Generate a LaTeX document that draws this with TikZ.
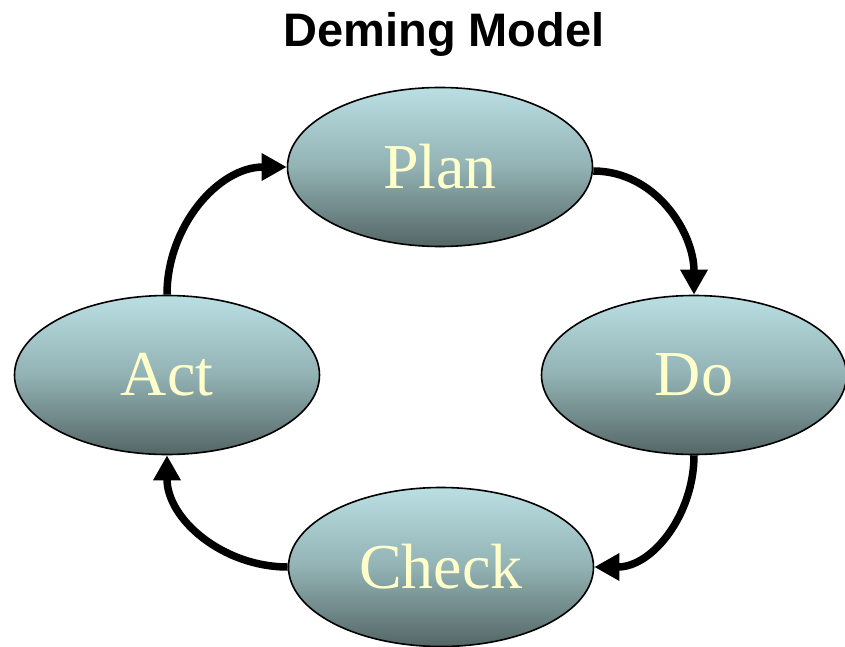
\documentclass[tikz,border=0pt]{standalone}
\usepackage{fontspec}
\setmainfont{Liberation Serif}
\setsansfont{Liberation Sans}
\usetikzlibrary{shapes.geometric,arrows.meta}
\definecolor{ovaltop}{RGB}{186,223,226}
\definecolor{ovalmid}{RGB}{146,178,180}
\definecolor{ovalbot}{RGB}{84,102,102}
\definecolor{labelcol}{RGB}{255,255,204}
\tikzset{
  phase/.style={ellipse, draw=black, line width=1.6pt,
    minimum width=305pt, minimum height=159pt, inner sep=0pt,
    top color=ovaltop, bottom color=ovalbot, middle color=ovalmid,
    text=labelcol, font=\fontsize{64}{64}\selectfont},
  cyclearrow/.style={line width=7.5pt,
    -{Triangle[length=25pt,width=26pt]}},
}
\begin{document}
\begin{tikzpicture}[x=1pt,y=1pt]
  \useasboundingbox (0,0) rectangle (845,-647);
  % title
  \node (title) at (444,-34) {\sffamily\bfseries\fontsize{47}{47}\selectfont Deming Model};
  % the four phases of the cycle
  \node[phase] (plan)  at (440,-167) {Plan};
  \node[phase] (do)    at (694,-375) {Do};
  \node[phase] (check) at (441,-567) {Check};
  \node[phase] (act)   at (167,-375) {Act};
  % connectors running clockwise
  \draw[cyclearrow] ([yshift=-4pt]plan.east) to[out=0,in=90] (do.north);
  \draw[cyclearrow] (do.south) to[out=-90,in=0] (check.east);
  \draw[cyclearrow] (check.west) to[out=180,in=-90] (act.south);
  \draw[cyclearrow] (act.north) to[out=90,in=180] (plan.west);
\end{tikzpicture}
\end{document}
